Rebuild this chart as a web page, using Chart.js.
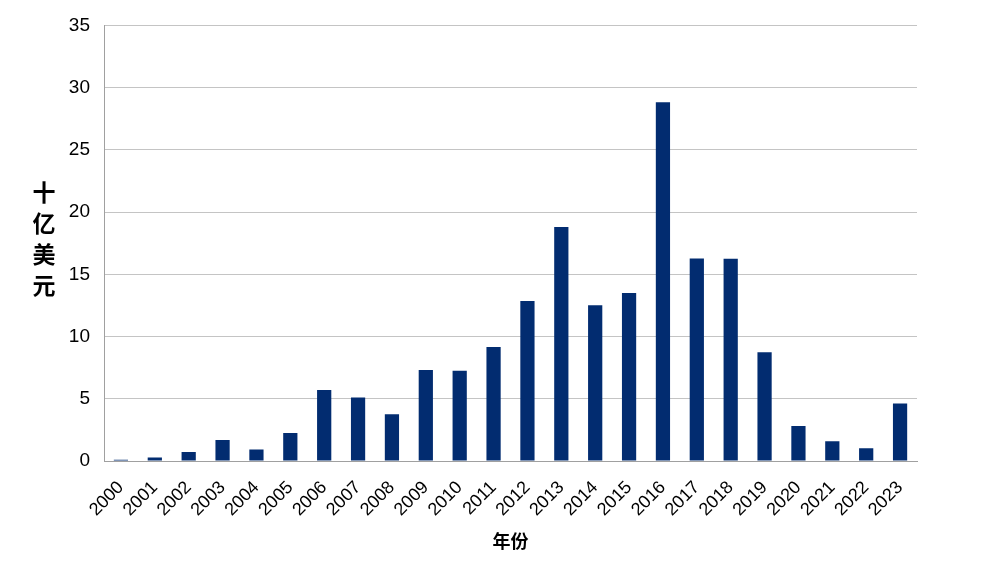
<!DOCTYPE html>
<html>
<head>
<meta charset="utf-8">
<script src="https://cdn.jsdelivr.net/npm/chart.js@4"></script>
<style>
html,body{margin:0;padding:0;background:#fff;}
#wrap{width:1000px;height:562px;position:relative;}
</style>
</head>
<body>
<div id="wrap"><canvas id="c" width="1000" height="562"></canvas></div>
<script>
const years = ['2000','2001','2002','2003','2004','2005','2006','2007','2008','2009','2010','2011','2012','2013','2014','2015','2016','2017','2018','2019','2020','2021','2022','2023'];
const values = [0.11,0.29,0.72,1.69,0.92,2.24,5.71,5.11,3.76,7.32,7.26,9.16,12.86,18.81,12.52,13.49,28.83,16.28,16.25,8.73,2.81,1.58,1.03,4.62];
const yTitleChars = ['十','亿','美','元'];
const xTitle = '年份';
const yMax = 35;
const yStep = 5;

const yTitlePlugin = {
  id: 'yTitleStack',
  afterDraw(chart) {
    const ctx = chart.ctx;
    ctx.save();
    ctx.fillStyle = '#000';
    ctx.font = 'bold 23px "Noto Sans CJK SC"';
    ctx.textAlign = 'center';
    ctx.textBaseline = 'middle';
    const startY = 192;
    yTitleChars.forEach((ch, i) => ctx.fillText(ch, 44, startY + i * 31));
    ctx.restore();
  }
};

new Chart(document.getElementById('c'), {
  type: 'bar',
  data: {
    labels: years,
    datasets: [{
      data: values,
      backgroundColor: '#022c70',
      borderWidth: 0,
      barPercentage: 0.42,
      categoryPercentage: 1.0
    }]
  },
  options: {
    responsive: false,
    animation: false,
    devicePixelRatio: 1,
    layout: { padding: { top: 24, right: 83, left: 0, bottom: 10 } },
    plugins: { legend: { display: false }, tooltip: { enabled: false } },
    scales: {
      x: {
        afterFit(s) { s.height = 91; },
        grid: { display: false, drawTicks: false },
        border: { display: true, color: '#a0a0a0', width: 1 },
        ticks: {
          autoSkip: false,
          minRotation: 45, maxRotation: 45, padding: 16,
          color: '#000',
          font: { family: '"Liberation Sans", Arial', size: 18 }
        },
        title: {
          display: true, text: xTitle, color: '#000',
          padding: { top: 0, bottom: 0 },
          font: { family: '"Noto Sans CJK SC"', size: 18, weight: 'bold' }
        }
      },
      y: {
        min: 0, max: yMax,
        afterFit(s) { s.width = 104; },
        grid: { color: '#c4c4c4', lineWidth: 1, drawTicks: false },
        border: { display: true, color: '#a0a0a0', width: 1 },
        ticks: {
          stepSize: yStep, padding: 14, color: '#000',
          font: { family: '"Liberation Sans", Arial', size: 19 }
        }
      }
    }
  },
  plugins: [yTitlePlugin]
});
</script>
</body>
</html>
